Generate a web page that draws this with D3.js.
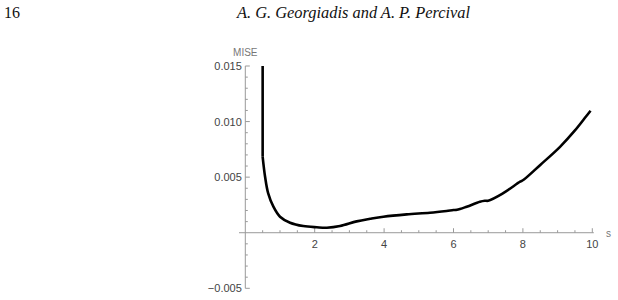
<!DOCTYPE html>
<html><head><meta charset="utf-8">
<script src="https://cdn.jsdelivr.net/npm/d3@7"></script>
<style>body{margin:0;background:#fff}svg{display:block}</style>
</head><body>
<svg id="c" width="618" height="300"></svg>
<script>
const sVals   = [0.5, 0.5, 0.57, 0.66, 0.81, 1.0, 1.29, 1.67, 2.06, 2.35, 2.73, 3.21, 3.6, 3.98, 4.65, 5.32, 5.8, 6.0, 6.1, 6.38, 6.76, 6.9, 7.0, 7.4, 7.92, 8.01, 8.5, 9.07, 9.5, 9.83, 9.95];
const miseVals= [0.015, 0.00683, 0.00504, 0.00354, 0.00234, 0.00144, 0.0009, 0.0006, 0.00049, 0.00045, 0.0006, 0.00102, 0.00125, 0.00144, 0.00165, 0.0018, 0.00196, 0.00204, 0.00206, 0.00234, 0.00279, 0.00288, 0.00288, 0.0035, 0.00459, 0.00474, 0.0061, 0.00773, 0.0092, 0.0105, 0.01097];
const xTickLabels = [2, 4, 6, 8, 10];
const yTickLabels = [-0.005, 0.005, 0.010, 0.015];
const headerPage = "16";
const headerAuthors = "A. G. Georgiadis and A. P. Percival";
const xLabel = "s", yLabel = "MISE";

const svg = d3.select("#c");
const x = d3.scaleLinear().domain([0, 10]).range([245.3, 592.3]);
const y = d3.scaleLinear().domain([-0.005, 0.015]).range([288.3, 66]);
const axisColor = "#999";
const labelColor = "#444";
const font = "'Liberation Sans', Arial, sans-serif";
const serif = "'Liberation Serif', 'Times New Roman', serif";

// header
svg.append("text").attr("x", 4).attr("y", 17.5).attr("font-family", serif)
  .attr("font-size", 16).attr("fill", "#111").text(headerPage);
svg.append("text").attr("x", 237).attr("y", 17.5).attr("font-family", serif)
  .attr("font-style", "italic").attr("font-size", 16.4).attr("fill", "#111").text(headerAuthors);

// axes lines
svg.append("line").attr("x1", 239).attr("x2", x(10) + 1.5).attr("y1", y(0)).attr("y2", y(0))
  .attr("stroke", axisColor).attr("stroke-width", 1);
svg.append("line").attr("x1", x(0)).attr("x2", x(0)).attr("y1", y(0.015)).attr("y2", y(-0.005))
  .attr("stroke", axisColor).attr("stroke-width", 1);

// x ticks
const xMinor = d3.range(0.5, 10.01, 0.5).filter(v => !xTickLabels.includes(v));
svg.selectAll(".xm").data(xMinor).join("line")
  .attr("x1", d => x(d)).attr("x2", d => x(d)).attr("y1", y(0)).attr("y2", y(0) - 2.5)
  .attr("stroke", axisColor);
svg.selectAll(".xM").data(xTickLabels).join("line")
  .attr("x1", d => x(d)).attr("x2", d => x(d)).attr("y1", y(0)).attr("y2", y(0) - 4.5)
  .attr("stroke", axisColor);
svg.selectAll(".xl").data(xTickLabels).join("text")
  .attr("x", d => x(d)).attr("y", y(0) + 15.5).attr("text-anchor", "middle")
  .attr("font-family", font).attr("font-size", 11).attr("fill", labelColor).text(d => d);

// y ticks
const yMinor = d3.range(-0.005, 0.0151, 0.001).map(v => +v.toFixed(3)).filter(v => !yTickLabels.includes(v) && v !== 0);
svg.selectAll(".ym").data(yMinor).join("line")
  .attr("x1", x(0)).attr("x2", x(0) + 2.5).attr("y1", d => y(d)).attr("y2", d => y(d))
  .attr("stroke", axisColor);
svg.selectAll(".yM").data(yTickLabels).join("line")
  .attr("x1", x(0)).attr("x2", x(0) + 4.5).attr("y1", d => y(d)).attr("y2", d => y(d))
  .attr("stroke", axisColor);
svg.selectAll(".yl").data(yTickLabels).join("text")
  .attr("x", x(0) - 3.5).attr("y", d => y(d) + 4).attr("text-anchor", "end")
  .attr("font-family", font).attr("font-size", 11).attr("fill", labelColor)
  .text(d => d3.format(".3f")(d).replace("-", "\u2212"));

// axis labels
svg.append("text").attr("x", x(0)).attr("y", 56).attr("text-anchor", "middle")
  .attr("font-family", font).attr("font-size", 10).attr("fill", "#777").text(yLabel);
svg.append("text").attr("x", 606).attr("y", y(0) + 4).attr("text-anchor", "start")
  .attr("font-family", font).attr("font-size", 10).attr("fill", "#777").text(xLabel);

// curve: vertical clipped part + smooth remainder
const data = sVals.map((s, i) => [s, miseVals[i]]);
const stroke = p => p.attr("fill", "none").attr("stroke", "#000").attr("stroke-width", 2.6)
  .attr("stroke-linejoin", "round").attr("stroke-linecap", "butt");
svg.append("path").datum(data.slice(0, 2))
  .attr("d", d3.line().x(d => x(d[0])).y(d => y(d[1]))).call(stroke);
svg.append("path").datum(data.slice(1))
  .attr("d", d3.line().x(d => x(d[0])).y(d => y(d[1])).curve(d3.curveCatmullRom.alpha(0.5))).call(stroke);
</script>
</body></html>
